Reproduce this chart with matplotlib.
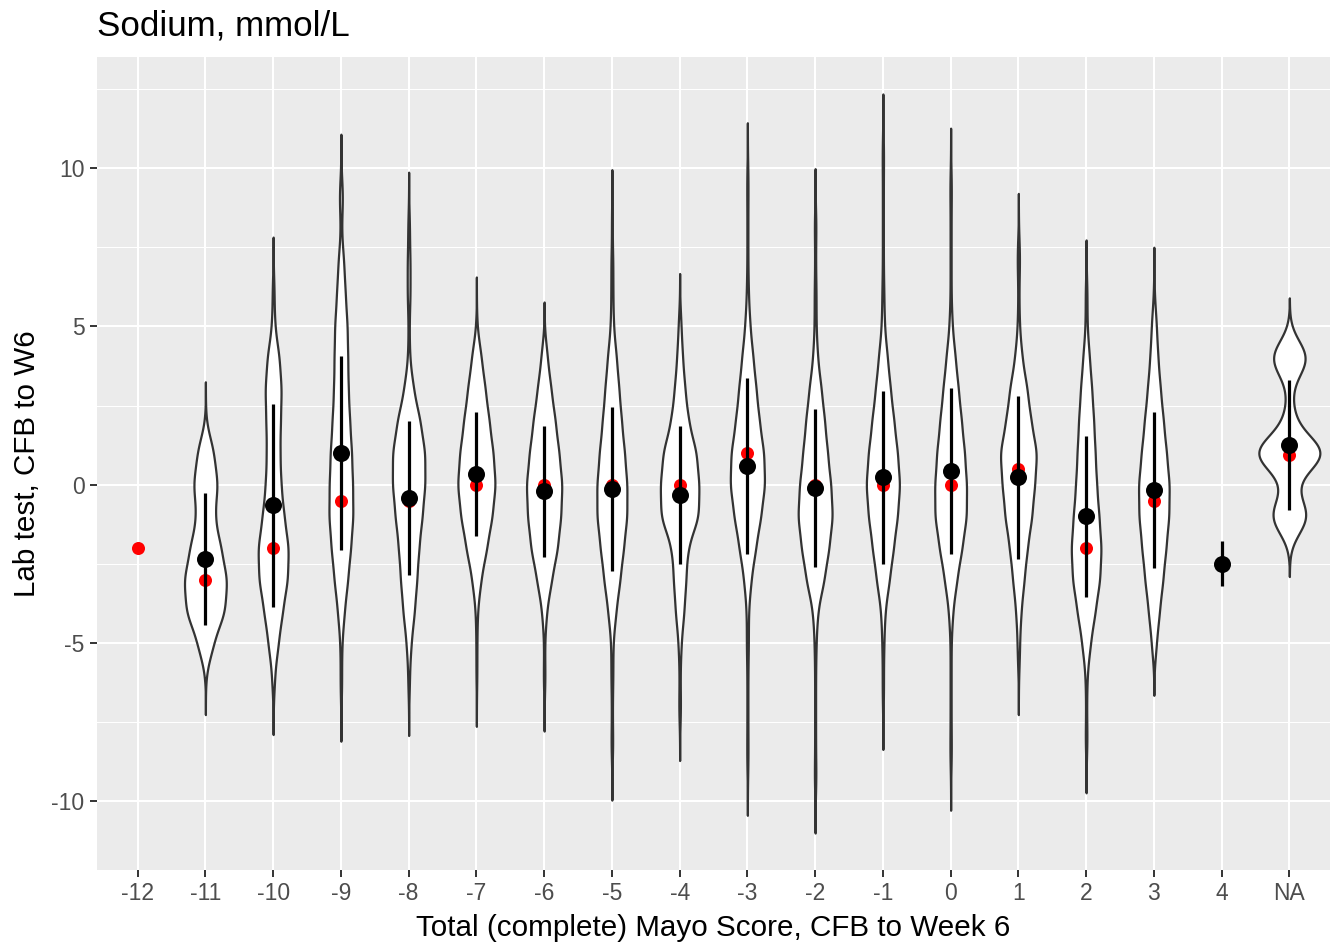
import numpy as np
import matplotlib
matplotlib.use('Agg')
import matplotlib.pyplot as plt

plt.rcParams['font.family'] = ['Liberation Sans', 'DejaVu Sans']

# categories of the x axis (change in Mayo score)
cats = ['-12', '-11', '-10', '-9', '-8', '-7', '-6', '-5', '-4', '-3',
        '-2', '-1', '0', '1', '2', '3', '4', 'NA']

# summary values per category (black = mean +/- sd, red = median)
means = [np.nan, -2.34, -0.65, 1.0, -0.43, 0.34, -0.2, -0.13, -0.33, 0.59,
         -0.1, 0.24, 0.44, 0.23, -1.0, -0.17, -2.5, 1.25]
sds = [np.nan, 2.08, 3.21, 3.06, 2.43, 1.95, 2.07, 2.59, 2.18, 2.78,
       2.49, 2.73, 2.62, 2.57, 2.55, 2.47, 0.71, 2.05]
medians = [-2, -3, -2, -0.5, -0.5, 0, 0, 0, 0, 1,
           0, 0, 0, 0.5, -2, -0.5, -2.5, 0.94]

# sample counts of the lab change on the grid -9 .. 10 for every group
grid = np.arange(-9, 11)
n_m11 = [0, 0, 0, 0, 15, 38, 42, 30, 17, 24, 16, 0, 0, 0, 0, 0, 0, 0, 0, 0]
n_m10 = [0, 0, 0, 2, 10, 18, 28, 30, 21, 15, 13, 14, 16, 12, 3, 1, 0, 0, 0, 0]
n_m9 = [0, 0, 0, 1, 2, 7, 14, 20, 25, 24, 22, 18, 15, 14, 13, 9, 6, 1, 3, 0]
n_m8 = [0, 0, 0, 1, 5, 12, 17, 21, 28, 34, 34, 24, 10, 2, 1, 3, 3, 1, 0, 0]
n_m7 = [0, 0, 0, 0, 1, 2, 9, 21, 32, 39, 34, 26, 18, 10, 0, 0, 0, 0, 0, 0]
n_m6 = [0, 0, 0, 1, 1, 5, 16, 29, 36, 39, 32, 24, 15, 6, 0, 0, 0, 0, 0, 0]
n_m5 = [0, 1, 1, 2, 2, 8, 16, 23, 30, 30, 25, 19, 14, 9, 3, 2, 2, 0, 0, 0]
n_m4 = [0, 0, 1, 1, 3, 9, 13, 16, 40, 40, 35, 18, 11, 6, 2, 0, 0, 0, 0, 0]
n_m3 = [0, 1, 1, 1, 2, 2, 7, 16, 26, 34, 32, 23, 17, 11, 5, 2, 1, 1, 1, 0]
n_m2 = [1, 1, 1, 1, 2, 5, 19, 29, 37, 33, 26, 20, 13, 5, 2, 2, 1, 1, 0, 0]
n_m1 = [0, 0, 0, 1, 2, 4, 13, 21, 29, 34, 29, 22, 15, 9, 3, 2, 1, 1, 1, 1]
n_0 = [0, 1, 1, 1, 1, 4, 12, 22, 31, 31, 27, 21, 15, 9, 3, 1, 1, 1, 1, 0]
n_p1 = [0, 0, 0, 0, 2, 5, 11, 17, 26, 31, 36, 24, 17, 7, 2, 1, 2, 0, 0, 0]
n_p2 = [0, 1, 1, 2, 9, 19, 29, 32, 27, 22, 19, 16, 12, 7, 2, 1, 0, 0, 0, 0]
n_p3 = [0, 0, 0, 0, 4, 11, 18, 24, 30, 31, 25, 19, 13, 8, 5, 0, 0, 0, 0, 0]
n_na = [0, 0, 0, 0, 0, 0, 0, 0, 30, 8, 58, 8, 3, 30, 0, 0, 0, 0, 0, 0]
counts = [None, n_m11, n_m10, n_m9, n_m8, n_m7, n_m6, n_m5, n_m4, n_m3,
          n_m2, n_m1, n_0, n_p1, n_p2, n_p3, None, n_na]

# most extreme single values of each group
lo_ext = [np.nan, -5.61, -6.24, -6.45, -6.27, -5.98, -6.13, -8.31, -7.06, -8.79,
          -9.35, -6.71, -8.63, -5.61, -8.08, -5.0, np.nan, -1.25]
hi_ext = [np.nan, 1.6, 6.17, 9.42, 8.22, 4.91, 4.12, 8.3, 5.02, 9.78,
          8.33, 10.69, 9.61, 7.55, 6.08, 5.85, np.nan, 4.25]

BW = 0.55  # kernel bandwidth


def px(x, y):
    return x / 1338, 1 - y / 948


fig = plt.figure(figsize=(13.38, 9.48), dpi=100)
x0, y1 = px(97, 870)
x1, y0 = px(1330, 57)
ax = fig.add_axes([x0, y1, x1 - x0, y0 - y1])
ax.set_facecolor('#EBEBEB')
for s in ax.spines.values():
    s.set_visible(False)

pos = np.arange(1, len(cats) + 1)

# violin densities (gaussian kernel, tails extended by 3 bandwidths)
dens = {}
for i, c in enumerate(counts):
    if c is None:
        continue
    vals = np.concatenate([np.repeat(grid, c), [lo_ext[i], hi_ext[i]]])
    y = np.linspace(vals.min() - 3 * BW, vals.max() + 3 * BW, 512)
    d = np.exp(-0.5 * ((y[:, None] - vals[None, :]) / BW) ** 2).sum(1)
    d = d / (len(vals) * BW * np.sqrt(2 * np.pi))
    dens[i] = (y, d)

gmax = max(d.max() for y, d in dens.values())
for i, (y, d) in dens.items():
    hw = 0.45 * d / gmax
    ax.fill_betweenx(y, pos[i] - hw, pos[i] + hw, facecolor='white',
                     edgecolor='#333333', lw=1.6, zorder=2)

ax.scatter(pos, medians, s=88, color='red', lw=0, zorder=3)
m = np.array(means)
sd = np.array(sds)
ok = ~np.isnan(m)
ax.vlines(pos[ok], m[ok] - sd[ok], m[ok] + sd[ok], color='black', lw=2.3, zorder=4)
ax.scatter(pos[ok], m[ok], s=150, color='black', lw=0, zorder=5)

lo = min(y.min() for y, d in dens.values())
hi = max(y.max() for y, d in dens.values())
span = hi - lo
ax.set_ylim(lo - 0.05 * span, hi + 0.05 * span)
ax.set_xlim(0.4, len(cats) + 0.6)

ax.set_xticks(pos, cats)
ax.set_yticks([-10, -5, 0, 5, 10], ['-10', '-5', '0', '5', '10'])
ax.set_yticks([-7.5, -2.5, 2.5, 7.5, 12.5], minor=True)
ax.set_axisbelow(True)
ax.grid(which='major', color='white', lw=1.5)
ax.grid(which='minor', axis='y', color='white', lw=0.75)
ax.tick_params(which='major', length=5, width=1.4, color='#333333',
               labelcolor='#4D4D4D', labelsize=16.5, pad=4)
ax.tick_params(which='minor', length=0)

fig.text(*px(97, 35), 'Sodium, mmol/L', fontsize=25.2, ha='left', va='baseline')
fig.text(*px(713.5, 936), 'Total (complete) Mayo Score, CFB to Week 6',
         fontsize=21.3, ha='center', va='baseline')
fig.text(*px(27, 463.5), 'Lab test, CFB to W6', fontsize=21.3, rotation=90,
         ha='center', va='center')

fig.savefig('out.png', dpi=100)
